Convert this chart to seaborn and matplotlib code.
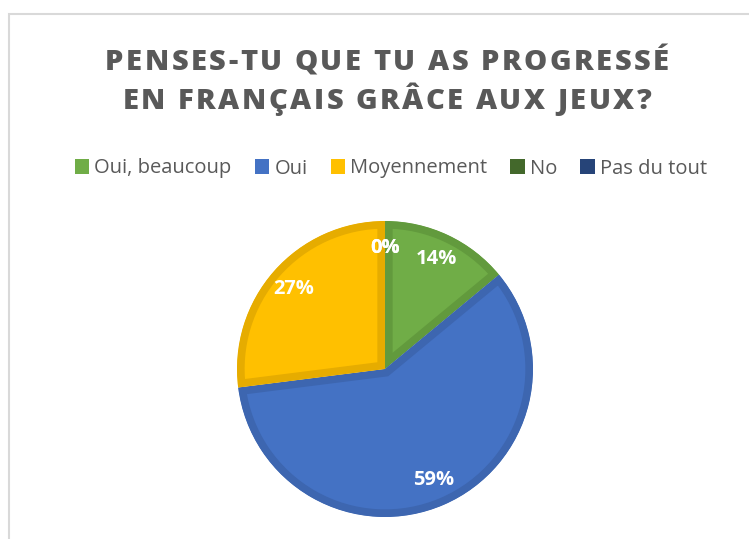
import matplotlib
matplotlib.use("Agg")
import matplotlib.pyplot as plt
from matplotlib.patches import Patch, Rectangle
from matplotlib.font_manager import FontProperties, findfont
from matplotlib.ft2font import FT2Font
import seaborn as sns

# Survey answers (share of pupils, %)
categories = ["Oui, beaucoup", "Oui", "Moyennement", "No", "Pas du tout"]
values = [14, 59, 27, 0, 0]
fill_colors = ["#70AD47", "#4472C4", "#FFC000", "#43682B", "#264478"]
edge_colors = ["#629A3D", "#3D66B0", "#E6AC00", "#3B5C26", "#213C6A"]
title_lines = ["PENSES-TU QUE TU AS PROGRESSÉ", "EN FRANÇAIS GRÂCE AUX JEUX?"]

sns.set_theme(style="white")
plt.rcParams["font.family"] = ["Open Sans", "DejaVu Sans"]

W, H = 749, 539
DPI = 100
fig = plt.figure(figsize=(W / DPI, H / DPI), dpi=DPI)
fig.patch.set_facecolor("white")

# light chart-area frame
fig.patches.append(Rectangle((9 / W, -0.05), 1.1, 1 - 14 / H + 0.05,
                             transform=fig.transFigure, fill=False,
                             edgecolor="#D9D9D9", linewidth=1.5))

TITLE_WEIGHT = 800
TITLE_SIZE = 21


def spaced_text(line, x_center_px, baseline_px, size, tracking_px, **kw):
    """Draw a line of text with extra letter spacing, centred on x."""
    fp = FontProperties(family="Open Sans", weight=TITLE_WEIGHT)
    ft = FT2Font(findfont(fp))
    ft.set_size(size, DPI)
    adv = [ft.load_char(ord(c)).linearHoriAdvance / 65536 for c in line]
    total = sum(adv) + tracking_px * (len(line) - 1)
    x = x_center_px - total / 2
    for c, a in zip(line, adv):
        fig.text((x + a / 2) / W, 1 - baseline_px / H, c, ha="center",
                 va="baseline", fontsize=size, fontweight=TITLE_WEIGHT, **kw)
        x += a + tracking_px


for line, base in zip(title_lines, [69.5, 109]):
    spaced_text(line, 387, base, TITLE_SIZE, 2.5, color="#595959")

# pie axes: centre (385, 369) px, radius 148 px
cx, cy, half = 385, 369, 150
ax = fig.add_axes([(cx - half) / W, (H - cy - half) / H, 2 * half / W, 2 * half / H])
palette = sns.color_palette(fill_colors)
wedges, texts, autotexts = ax.pie(
    values, colors=palette, startangle=90, counterclock=False,
    radius=148 / 150, autopct=lambda p: f"{p:.0f}%", pctdistance=0.82,
    textprops=dict(color="white", fontsize=14.5, fontweight="bold"),
    wedgeprops=dict(linewidth=11),
)
# darker border drawn on the inside of each slice
for w, ec in zip(wedges, edge_colors):
    w.set_edgecolor(ec)
    w.set_clip_path(w)
    w.set_clip_on(True)
ax.set_xlim(-1, 1)
ax.set_ylim(-1, 1)
ax.set_aspect("equal")
ax.axis("off")

handles = [Patch(facecolor=c, edgecolor="none", label=l)
           for c, l in zip(fill_colors, categories)]
fig.legend(handles=handles, loc="center", bbox_to_anchor=(391 / W, 1 - 168.5 / H),
           ncol=5, frameon=False, fontsize=14.5, handlelength=0.72, handleheight=0.72,
           handletextpad=0.25, columnspacing=1.15, labelcolor="#595959")

fig.savefig("out.png", dpi=DPI, facecolor="white")
